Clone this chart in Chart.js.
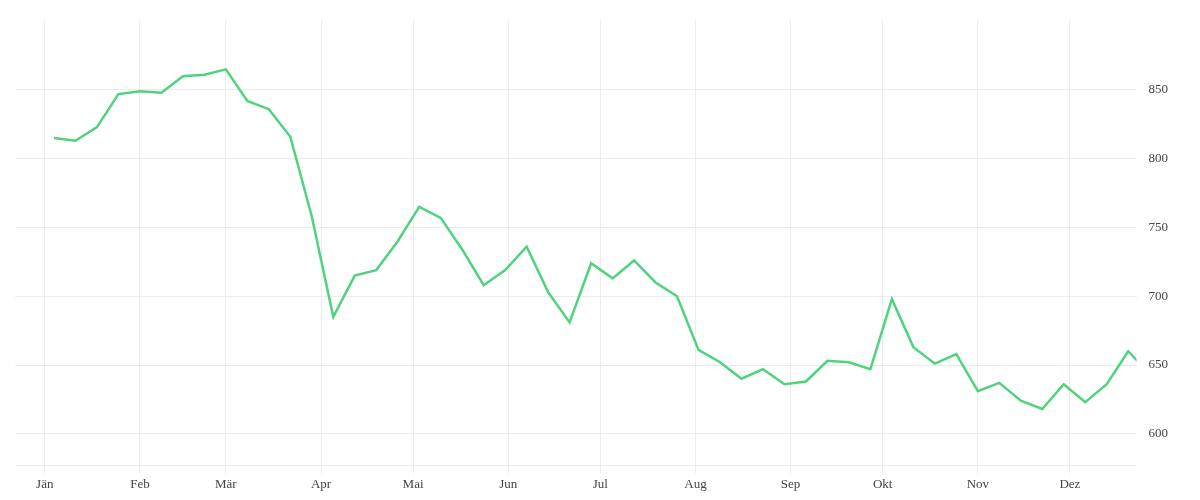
<!DOCTYPE html>
<html><head><meta charset="utf-8">
<script src="https://cdn.jsdelivr.net/npm/chart.js@4"></script>
<style>body{margin:0;background:#fff}#w{width:1200px;height:500px}</style>
</head><body><div id="w"><canvas id="c"></canvas></div>
<script>
const days = [3,10,17,24,31,38,45,52,59,66,73,80,87,94,101,108,115,122,129,136,143,150,157,164,171,178,185,192,199,206,213,220,227,234,241,248,255,262,269,276,283,290,297,304,311,318,325,332,339,346,353,356];
const values = [815,813,823,847,849,848,860,861,865,842,836,816,758,685,715,719,740,765,757,734,708,719,736,703,681,724,713,726,710,700,661,652,640,647,636,638,653,652,647,698,663,651,658,631,637,624,618,636,623,636,660,653];
const monthLabels = ["Jän","Feb","Mär","Apr","Mai","Jun","Jul","Aug","Sep","Okt","Nov","Dez"];
const monthStarts = [0,31,59,90,120,151,181,212,243,273,304,334];
const yTicks = [600,650,700,750,800,850];

const font = {family:"Liberation Serif", size:13};
new Chart(document.getElementById('c'), {
  type:'line',
  data:{datasets:[{data:days.map((d,i)=>({x:d,y:values[i]})),borderColor:'#4fd37e',borderWidth:2.5,pointRadius:0,tension:0,fill:false}]},
  options:{responsive:true,maintainAspectRatio:false,animation:false,
    layout:{padding:{left:15,right:20,top:13,bottom:5}},
    plugins:{legend:{display:false},tooltip:{enabled:false}},
    scales:{
      x:{type:'linear',min:-9.7,max:355.7,
        afterBuildTicks:a=>{a.ticks=monthStarts.map(v=>({value:v}));},
        ticks:{callback:(v)=>monthLabels[monthStarts.indexOf(v)],color:'#444',font,maxRotation:0,autoSkip:false},
        grid:{color:'#ececec',tickLength:8},border:{color:'#ececec'}},
      y:{position:'right',min:577,max:901,
        afterBuildTicks:a=>{a.ticks=yTicks.map(v=>({value:v}));},
        ticks:{color:'#444',font,padding:12},
        grid:{color:'#ececec',drawTicks:false},border:{display:false}}
    }}
});
</script></body></html>
